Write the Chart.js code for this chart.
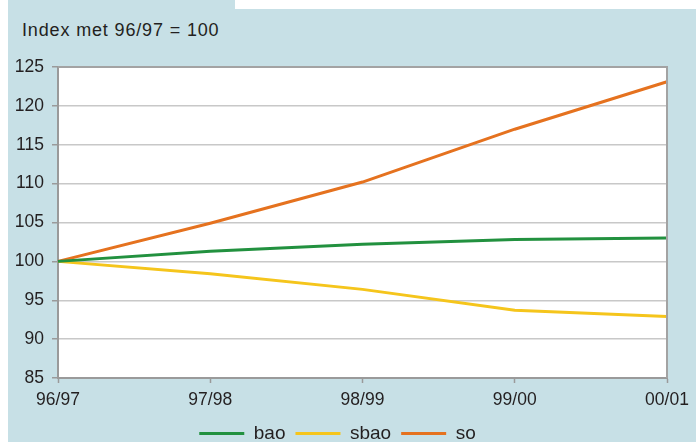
<!DOCTYPE html>
<html lang="nl">
<head>
    <meta charset="UTF-8">
    <title>Index met 96/97 = 100</title>
    <script src="https://cdn.jsdelivr.net/npm/chart.js"></script>
    <style>
        body {
            margin: 0;
            width: 696px;
            height: 442px;
            overflow: hidden;
            background: #ffffff;
            position: relative;
            font-family: 'Liberation Sans', Arial, sans-serif;
        }
        .panel {
            position: absolute;
            left: 8px;
            top: 0;
            width: 688px;
            height: 442px;
            background: #c7e0e6;
        }
        .strip {
            position: absolute;
            left: 235px;
            top: 0;
            width: 461px;
            height: 9px;
            background: #ffffff;
        }
        .title {
            position: absolute;
            left: 22px;
            top: 22px;
            font-size: 18px;
            line-height: 16px;
            letter-spacing: 0.85px;
            color: #231f20;
            white-space: nowrap;
        }
        .chart-box {
            position: absolute;
            left: 8px;
            top: 0;
        }
    </style>
</head>
<body>
    <div class="panel"></div>
    <div class="strip"></div>
    <div class="title">Index met 96/97 = 100</div>
    <div class="chart-box">
        <canvas id="indexChart" width="688" height="453"></canvas>
    </div>

    <script>
        const years = ['96/97', '97/98', '98/99', '99/00', '00/01'];
        const bao = [100, 101.3, 102.2, 102.8, 103.0];
        const sbao = [100, 98.4, 96.4, 93.7, 92.9];
        const so = [100, 104.9, 110.2, 117.0, 123.1];
        const yTicks = [85, 90, 95, 100, 105, 110, 115, 120, 125];

        const textColor = '#231f20';
        const axisGrey = '#9a9a9a';

        // white plot area, grey frame on the top and right
        const framePlugin = {
            id: 'frame',
            beforeDraw(chart) {
                const {ctx, chartArea} = chart;
                ctx.save();
                ctx.fillStyle = '#ffffff';
                ctx.fillRect(chartArea.left, chartArea.top,
                    chartArea.right - chartArea.left, chartArea.bottom - chartArea.top);
                ctx.restore();
            },
            afterDraw(chart) {
                const {ctx, chartArea} = chart;
                ctx.save();
                ctx.strokeStyle = '#a3a3a3';
                ctx.lineWidth = 2;
                ctx.beginPath();
                ctx.moveTo(chartArea.left, chartArea.top);
                ctx.lineTo(chartArea.right, chartArea.top);
                ctx.lineTo(chartArea.right, chartArea.bottom);
                ctx.stroke();
                ctx.restore();
            }
        };

        function series(label, data, color) {
            return {
                label: label,
                data: data,
                borderColor: color,
                backgroundColor: color,
                borderWidth: 3,
                pointRadius: 0,
                pointHoverRadius: 0,
                tension: 0
            };
        }

        new Chart(document.getElementById('indexChart'), {
            type: 'line',
            data: {
                labels: years,
                datasets: [
                    series('bao', bao, '#22913f'),
                    series('sbao', sbao, '#f5c51c'),
                    series('so', so, '#e5721f')
                ]
            },
            options: {
                responsive: false,
                animation: false,
                devicePixelRatio: 1,
                layout: {
                    padding: {top: 67, right: 29, left: 0, bottom: 0}
                },
                scales: {
                    x: {
                        offset: false,
                        afterFit(scale) { scale.height = 36; },
                        grid: {
                            drawOnChartArea: false,
                            drawTicks: true,
                            tickLength: 5,
                            tickColor: axisGrey,
                            tickWidth: 1.5
                        },
                        border: {color: axisGrey, width: 2},
                        ticks: {
                            color: textColor,
                            padding: 7,
                            maxRotation: 0,
                            font: {family: 'Liberation Sans', size: 17.5}
                        }
                    },
                    y: {
                        min: yTicks[0],
                        max: yTicks[yTicks.length - 1],
                        afterFit(scale) { scale.width = 50; },
                        afterBuildTicks(scale) {
                            scale.ticks = yTicks.map(v => ({value: v}));
                        },
                        grid: {
                            color: '#c8c8c8',
                            lineWidth: 1.5,
                            tickLength: 6,
                            tickColor: axisGrey,
                            tickWidth: 1.5
                        },
                        border: {color: axisGrey, width: 2},
                        ticks: {
                            color: textColor,
                            padding: 8,
                            font: {family: 'Liberation Sans', size: 17.5}
                        }
                    }
                },
                plugins: {
                    legend: {
                        position: 'bottom',
                        labels: {
                            boxWidth: 45,
                            boxHeight: 3,
                            padding: 10,
                            color: textColor,
                            font: {family: 'Liberation Sans', size: 19},
                            generateLabels(chart) {
                                const items = Chart.defaults.plugins.legend.labels.generateLabels(chart);
                                items.forEach(item => { item.lineWidth = 0; });
                                return items;
                            }
                        }
                    },
                    tooltip: {enabled: false}
                }
            },
            plugins: [framePlugin]
        });
    </script>
</body>
</html>
